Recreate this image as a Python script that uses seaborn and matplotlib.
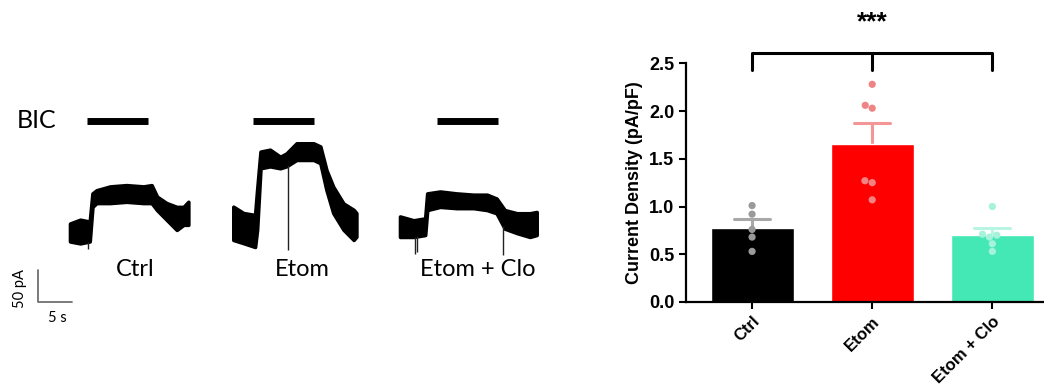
import numpy as np
import pandas as pd
import matplotlib
matplotlib.use('Agg')
import matplotlib.pyplot as plt
import seaborn as sns

sns.set_style('ticks')
plt.rcParams['font.family'] = ['Liberation Sans', 'DejaVu Sans']
for k in ['text.color', 'axes.labelcolor', 'xtick.color', 'ytick.color', 'axes.edgecolor']:
    plt.rcParams[k] = 'black'

# ---- bar chart data (current density, pA/pF, one value per cell) ----
groups = ['Ctrl', 'Etom', 'Etom + Clo']
ctrl_vals = [1.01, 0.92, 0.76, 0.68, 0.53]
etom_vals = [2.28, 2.06, 2.03, 1.27, 1.25, 1.07]
clo_vals = [1.00, 0.71, 0.70, 0.68, 0.61, 0.53]

bar_colors = ['#000000', '#ff0000', '#44e8b4']
dot_colors = ['#9a9a9a', '#f08484', '#a6f2da']
err_colors = ['#a8a8a8', '#f49696', '#b8f5e2']

# ---- example traces: time (s) from sweep start, current (pA) vs baseline,
# upper and lower edge of the noisy band ----
ctrl_t = [0, 1.5, 2.9, 3.3, 3.9, 5.9, 8.3, 10.8, 12.0, 12.8, 14.2, 15.7, 16.7, 17.4]
ctrl_up = [14, 20, 17, 61, 66, 72, 74, 72, 74, 56, 46, 40, 40, 48]
ctrl_lo = [-14, -17, -14, 40, 46, 46, 48, 46, 46, 35, 20, 4, 12, 12]

etom_t = [0, 1.5, 3.2, 3.5, 4.0, 5.4, 6.9, 7.8, 9.3, 11.8, 12.8, 13.7, 14.7, 16.2, 17.7, 18.1]
etom_up = [26, 16, 13, 52, 112, 115, 104, 109, 125, 125, 120, 83, 57, 31, 21, 16]
etom_lo = [-26, -31, -37, -10, 86, 89, 86, 89, 99, 99, 94, 52, 16, -10, -26, -21]

clo_t = [0, 2.0, 3.7, 4.0, 5.9, 8.3, 10.8, 12.8, 14.2, 15.4, 17.2, 19.1, 20.1]
clo_up = [16, 10, 13, 52, 55, 52, 50, 50, 44, 26, 21, 21, 23]
clo_lo = [-16, -16, -13, 26, 31, 29, 29, 26, 21, -3, -10, -16, -13]

# brief artefacts (time in s, lowest point in pA)
ctrl_art_t, ctrl_art_min = [2.7], [-26]
etom_art_t, etom_art_min = [8.1], [-42]
clo_art_t, clo_art_min = [2.2, 2.45, 15.2], [-42, -40, -44]

bic_on = [2.5, 2.9, 5.4]   # BIC application start (s after sweep start)
bic_dur = 9.0              # s

fig = plt.figure(figsize=(10.44, 3.85), dpi=100)

# ---------------- left panel: traces ----------------
PX_S, PX_PA = 6.8, 0.64    # pixels per second / per pA
axL = fig.add_axes([0, 0, 560 / 1044, 1])
axL.set_xlim(0, 560 / PX_S)
axL.set_ylim(0, 385 / PX_PA)
axL.axis('off')

def sx(px):
    return px / PX_S

def sy(py):
    return (385 - py) / PX_PA

traces = [(ctrl_t, ctrl_up, ctrl_lo, ctrl_art_t, ctrl_art_min),
          (etom_t, etom_up, etom_lo, etom_art_t, etom_art_min),
          (clo_t, clo_up, clo_lo, clo_art_t, clo_art_min)]
starts = [(70, 232.5), (233.3, 223.3), (400, 226.7)]   # sweep origin in pixels
label_x = [135, 302, 478]

for (t, up, lo, at, amin), (x0, y0), lx, on, name in zip(traces, starts, label_x, bic_on, groups):
    t = np.array(t) + sx(x0)
    base = sy(y0)
    axL.fill_between(t, np.array(lo) + base, np.array(up) + base,
                     color='black', lw=2.6, edgecolor='black')
    lo_i = np.interp(np.array(at) + sx(x0), t, np.array(lo) + base)
    axL.vlines(np.array(at) + sx(x0), np.array(amin) + base, lo_i, color='#222222', lw=1)
    axL.plot([sx(x0) + on, sx(x0) + on + bic_dur], [sy(120.5), sy(120.5)],
             color='black', lw=5, solid_capstyle='butt')
    axL.text(sx(lx), sy(269), name, ha='center', va='center',
             fontsize=17, family=['Lato', 'DejaVu Sans'])

axL.text(sx(17), sy(121), 'BIC', ha='left', va='center', fontsize=18,
         family=['Lato', 'DejaVu Sans'])

# scale bar: 50 pA / 5 s
axL.plot([sx(38), sx(38), sx(38) + 5], [sy(302) + 50, sy(302), sy(302)],
         color='#707070', lw=1.3)
axL.text(sx(20), sy(302) + 21, '50 pA', rotation=90, ha='center', va='center',
         fontsize=10.5, family=['Lato', 'DejaVu Sans'])
axL.text(sx(57), sy(318), '5 s', ha='center', va='center',
         fontsize=10.5, family=['Lato', 'DejaVu Sans'])

# ---------------- right panel: bar chart ----------------
df = pd.DataFrame({
    'group': ['Ctrl'] * len(ctrl_vals) + ['Etom'] * len(etom_vals) + ['Etom + Clo'] * len(clo_vals),
    'density': ctrl_vals + etom_vals + clo_vals,
})

ax = fig.add_axes([686 / 1044, 83 / 385, 358 / 1044, 238.7 / 385])
sns.barplot(data=df, x='group', y='density', hue='group', order=groups,
            palette=dict(zip(groups, bar_colors)), saturation=1, width=0.69,
            errorbar='se', capsize=0.3, err_kws={'linewidth': 2.2, 'zorder': 0.5},
            legend=False, ax=ax)
for line, c in zip(ax.lines, err_colors):
    line.set_color(c)
sns.swarmplot(data=df, x='group', y='density', hue='group', order=groups,
              palette=dict(zip(groups, dot_colors)), size=5.2, legend=False,
              ax=ax, zorder=3)

ax.set_xlim(-0.55, 2.43)
ax.set_ylim(0, 2.5)
ax.set_yticks([0, 0.5, 1.0, 1.5, 2.0, 2.5])
ax.set_yticklabels(['0.0', '0.5', '1.0', '1.5', '2.0', '2.5'], fontweight='bold', fontsize=13)
ax.set_xticks(range(3))
ax.set_xticklabels(groups, rotation=45, ha='right', rotation_mode='anchor',
                   fontweight='bold', fontsize=12)
ax.set_xlabel('')
ax.set_ylabel('Current Density (pA/pF)', fontweight='bold', fontsize=13)
sns.despine(ax=ax)
for s in ['left', 'bottom']:
    ax.spines[s].set_linewidth(1.6)
ax.tick_params(width=1.5, length=5)

# significance bracket
ax.plot([0, 0, 2, 2], [2.43, 2.61, 2.61, 2.43], color='black', lw=2.2, clip_on=False)
ax.plot([1, 1], [2.61, 2.43], color='black', lw=2.2, clip_on=False)
ax.text(1, 2.93, '***', ha='center', va='center', fontsize=19, fontweight='bold')

fig.savefig('out.png', dpi=100)
